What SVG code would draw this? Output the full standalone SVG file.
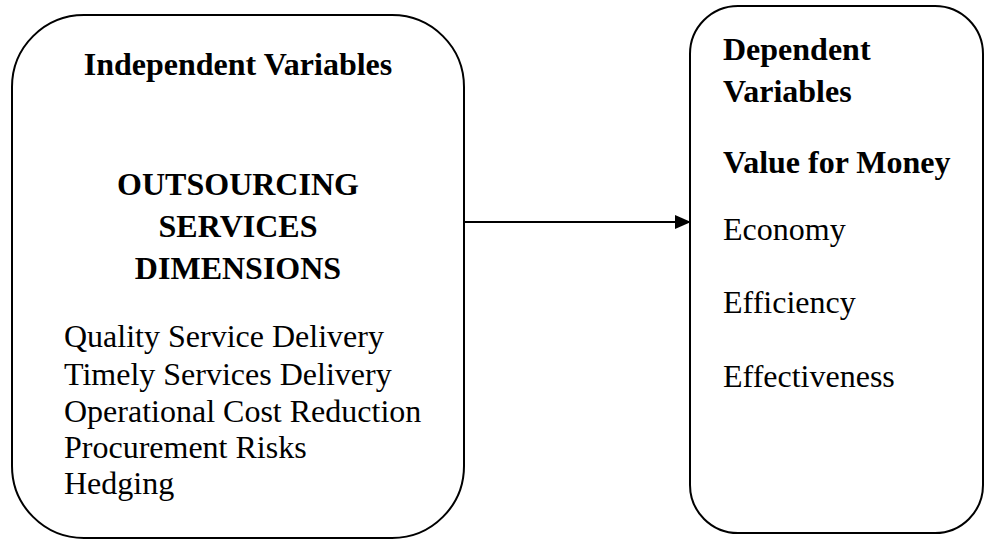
<svg xmlns="http://www.w3.org/2000/svg" width="993" height="541" viewBox="0 0 993 541">
<style>
.box{fill:#fff;stroke:#000;stroke-width:2}
text{font-family:"Liberation Serif","Times New Roman",serif;font-size:32px;fill:#000}
.b{font-weight:bold}
.c{text-anchor:middle}
</style>
<defs>
<marker id="ah" markerWidth="16" markerHeight="14" refX="15" refY="7" orient="auto" markerUnits="userSpaceOnUse">
<path d="M0,0 L16,7 L0,14 Z" fill="#000"/>
</marker>
</defs>
<rect width="993" height="541" fill="#fff"/>
<g id="independent">
<rect class="box" x="12" y="15" width="452" height="523" rx="72" ry="72"/>
<text class="b c" x="238" y="75">Independent Variables</text>
<text class="b c" x="238" y="195">OUTSOURCING</text>
<text class="b c" x="238" y="237">SERVICES</text>
<text class="b c" x="238" y="279">DIMENSIONS</text>
<text x="64" y="347">Quality Service Delivery</text>
<text x="64" y="385">Timely Services Delivery</text>
<text x="64" y="422">Operational Cost Reduction</text>
<text x="64" y="458">Procurement Risks</text>
<text x="64" y="494">Hedging</text>
</g>
<g id="dependent">
<rect class="box" x="690" y="6" width="293" height="527" rx="48" ry="48"/>
<text class="b" x="723" y="60">Dependent</text>
<text class="b" x="723" y="102">Variables</text>
<text class="b" x="723" y="173">Value for Money</text>
<text x="723" y="240">Economy</text>
<text x="723" y="313">Efficiency</text>
<text x="723" y="387">Effectiveness</text>
</g>
<g id="connectors">
<line x1="464" y1="222" x2="690" y2="222" stroke="#000" stroke-width="2" marker-end="url(#ah)"/>
</g>
</svg>
